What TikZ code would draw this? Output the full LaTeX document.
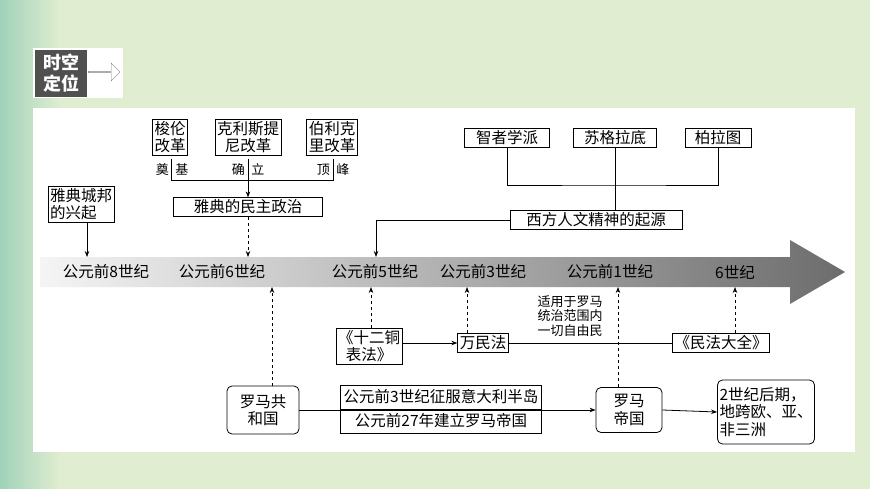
\documentclass[tikz,border=0pt]{standalone}
\usepackage{fontspec}
\setmainfont{Liberation Serif}
\newfontfamily\cjk{Noto Sans CJK SC}
\usetikzlibrary{positioning, calc, arrows.meta, shapes.arrows}

\definecolor{bgpale}{RGB}{224,237,208}
\definecolor{bgteal}{RGB}{160,210,185}
\definecolor{tagdark}{RGB}{80,80,80}

\tikzset{
  box/.style={draw, thick, fill=white, align=center, inner sep=2pt, font=\cjk\fontsize{15.5}{17.5}\selectfont},
  rbox/.style={box, rounded corners=5pt},
  tick/.style={font=\cjk\fontsize{15.5}{17}\selectfont},
  small/.style={font=\cjk\fontsize{13}{14.5}\selectfont, align=center},
  link/.style={thick, -{Stealth[length=6pt]}},
  dlink/.style={thick, dashed, -{Stealth[length=6pt]}}
}

\begin{document}
\begin{tikzpicture}[x=1pt, y=-1pt]
\useasboundingbox (0,0) rectangle (870,489);
% background
\fill[bgpale] (0,0) rectangle (870,489);
\shade[left color=bgteal, right color=bgpale] (0,0) rectangle (60,489);
\fill[white] (33,108) rectangle (855,452);

% tag
\fill[white] (33,48) rectangle (123,98);
\fill[tagdark] (35,50) rectangle (87,97);
\node[font=\cjk\bfseries\fontsize{18}{21}\selectfont, text=white, align=center] (tag) at (61,73) {时空\\定位};
\node[draw=gray, single arrow, minimum height=32pt, minimum width=18pt, single arrow head extend=3pt, inner sep=0pt, anchor=west] (tagarrow) at (88,72) {};

% time axis
\shade[left color=gray!8, right color=gray!85!black]
  (40,257) -- (790,257) -- (790,240) -- (845,272) -- (790,304) -- (790,287) -- (40,287) -- cycle;
\coordinate (ax8t) at (87,257);
\coordinate (ax6t) at (248,257);
\coordinate (ax5t) at (376,257);
\coordinate (ax5b) at (371,287);
\coordinate (ax3b) at (467,287);
\coordinate (ax1b) at (618,287);
\coordinate (axrb) at (272,287);
\coordinate (ax0b) at (735,287);
\node[tick] (t8) at (106,272) {公元前8世纪};
\node[tick] (t6) at (222,272) {公元前6世纪};
\node[tick] (t5) at (375,272) {公元前5世纪};
\node[tick] (t3) at (483,272) {公元前3世纪};
\node[tick] (t1) at (610,272) {公元前1世纪};
\node[tick] (t0) at (735,272) {6世纪};

% Athens
\node[box, align=left] (rise) at (81,204) {雅典城邦\\的兴起};
\node[box] (solon) at (170,137) {梭伦\\改革};
\node[box] (cleis) at (248,137) {克利斯提\\尼改革};
\node[box] (peri) at (332,137) {伯利克\\里改革};
\node[box, minimum width=149pt] (demo) at (248,207) {雅典的民主政治};
\node[small] (w1) at (172,170) {奠\,\,\,基};
\node[small] (w2) at (248,170) {确\,\,\,立};
\node[small] (w3) at (333,170) {顶\,\,\,峰};
\coordinate (j1) at (171,180);
\coordinate (j3) at (333,180);
\draw[thick] (171,159) -- (j1) -- (j3) -- (333,159);
\draw[link] (248,159) -- (demo.north);
\draw[dlink] (demo.south) -- (ax6t);
\draw[link] (rise.south -| ax8t) -- (ax8t);

% thinkers
\node[box, minimum width=85pt] (soph) at (507,138) {智者学派};
\node[box, minimum width=83pt] (socr) at (615,138) {苏格拉底};
\node[box, minimum width=66pt] (plato) at (718,138) {柏拉图};
\node[box, minimum width=172pt] (human) at (596,220) {西方人文精神的起源};
\draw[thick] (soph.south) |- (615,185) -| (plato.south);
\draw[thick] (socr.south) -- (human.north -| socr);
\draw[link] (human.west) -| (ax5t);

% Roman law
\node[box] (tables) at (369,346) {《十二铜\\表法》};
\node[box] (jus) at (483,343) {万民法};
\node[box] (corpus) at (721,343) {《民法大全》};
\node[small, align=left] (note) at (570,316) {适用于罗马\\统治范围内\\一切自由民};
\draw[dlink] (tables.north -| ax5b) -- (ax5b);
\draw[link] (tables.east |- jus) -- (jus.west);
\draw[dlink] (jus.north -| ax3b) -- (ax3b);
\draw[thick] (jus.east) -- (corpus.west);
\draw[dlink] (corpus.north -| ax0b) -- (ax0b);

% Rome
\node[rbox, minimum width=72pt, minimum height=48pt] (rep) at (263,410) {罗马共\\和国};
\node[box, minimum width=201pt, minimum height=24pt] (step1) at (441,397) {公元前3世纪征服意大利半岛};
\node[box, minimum width=201pt, minimum height=24pt] (step2) at (441,421) {公元前27年建立罗马帝国};
\node[rbox, minimum width=66pt, minimum height=45pt] (emp) at (629,410) {罗马\\帝国};
\node[rbox, align=left, minimum width=93pt, minimum height=64pt] (span) at (766,412) {2世纪后期，\\地跨欧、亚、\\非三洲};
\draw[dlink] (rep.north -| axrb) -- (axrb);
\draw[link] (rep.east) -- (emp.west);
\draw[dlink] (emp.north -| ax1b) -- (ax1b);
\draw[link] (emp.east) -- (span.west);
\end{tikzpicture}
\end{document}
